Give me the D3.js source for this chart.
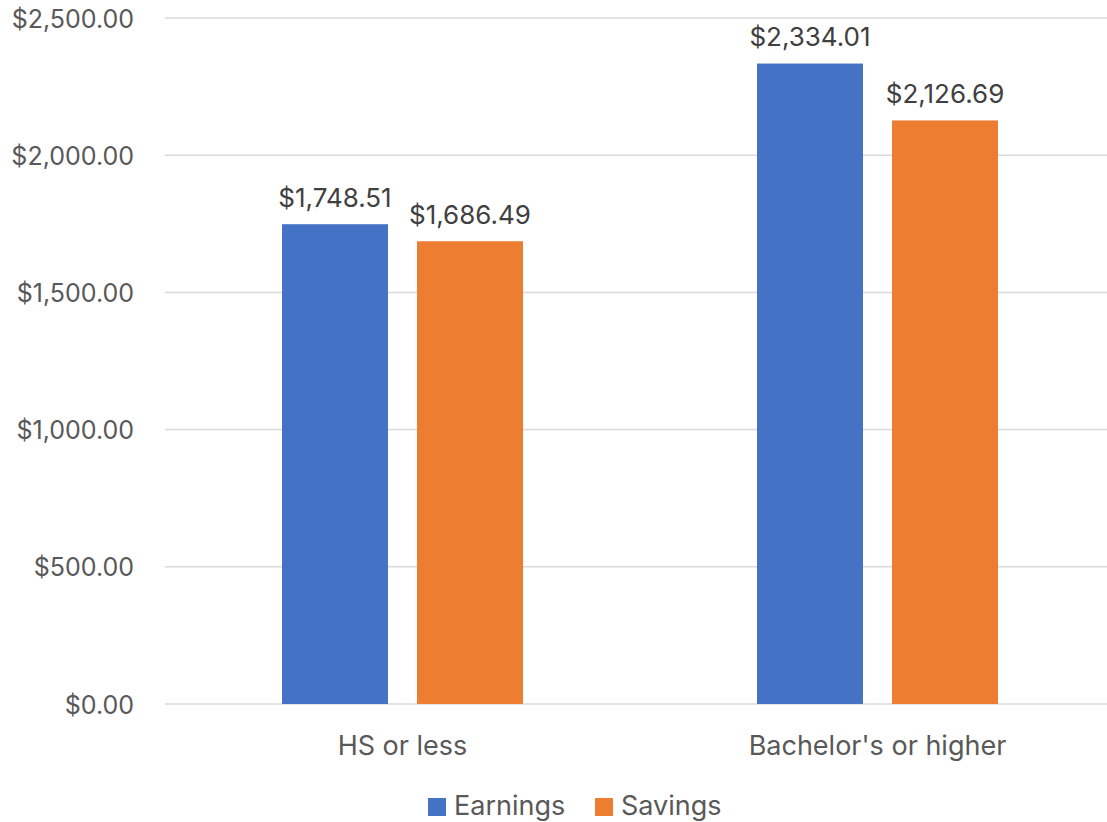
<!DOCTYPE html>
<html><head><meta charset="utf-8">
<script src="https://cdn.jsdelivr.net/npm/d3@7"></script>
<style>body{margin:0;background:#fff}svg{display:block;font-family:Inter,Roboto,"Noto Sans",sans-serif}</style>
</head><body><svg id="c" width="1107" height="822"></svg>
<script>
const categories = ["HS or less", "Bachelor's or higher"];
const seriesNames = ["Earnings", "Savings"];
const earnings = [1748.51, 2334.01];
const savings = [1686.49, 2126.69];
const yTicks = [0, 500, 1000, 1500, 2000, 2500];
const colors = ["#4472C4", "#ED7D31"];
const FONT = "Inter,Roboto,sans-serif";

const svg = d3.select("#c");
const x0 = d3.scaleBand().domain(categories).range([165, 1115]).paddingInner(0).paddingOuter(0);
const y = d3.scaleLinear().domain([0, 2500]).range([704, 18]);
const x1 = d3.scaleBand().domain(seriesNames).range([117, 358]).paddingInner(0.215);
const fmt = d3.format("$,.2f");

const g = svg.append("g");
g.selectAll("line.grid").data(yTicks).join("line")
  .attr("x1", 165).attr("x2", 1115)
  .attr("y1", d => y(d)).attr("y2", d => y(d))
  .attr("stroke", "#d9d9d9").attr("stroke-width", 1.5);

const yAxis = d3.axisLeft(y).tickValues(yTicks).tickFormat(fmt).tickSize(0).tickPadding(0);
const ya = svg.append("g").attr("transform", "translate(134,0)").call(yAxis);
ya.select(".domain").remove();
ya.selectAll("text").attr("font-size", 25).attr("fill", "#595959").attr("font-family", FONT).attr("dy", "0.36em");

const data = categories.map((c, i) => ({cat: c, vals: [earnings[i], savings[i]]}));
const grp = svg.selectAll("g.cat").data(data).join("g").attr("class", "cat")
  .attr("transform", d => `translate(${x0(d.cat)},0)`);
grp.selectAll("rect").data(d => d.vals.map((v, j) => ({s: seriesNames[j], v, j}))).join("rect")
  .attr("x", d => x1(d.s)).attr("width", x1.bandwidth())
  .attr("y", d => y(d.v)).attr("height", d => y(0) - y(d.v))
  .attr("fill", d => colors[d.j]);
grp.selectAll("text").data(d => d.vals.map((v, j) => ({s: seriesNames[j], v, j}))).join("text")
  .attr("x", d => x1(d.s) + x1.bandwidth() / 2).attr("y", d => y(d.v) - 17.5)
  .attr("text-anchor", "middle").attr("font-size", 26).attr("fill", "#404040")
  .text(d => fmt(d.v));

const xAxis = d3.axisBottom(x0).tickSize(0).tickPadding(0);
const xa = svg.append("g").attr("transform", "translate(0,755)").call(xAxis);
xa.select(".domain").remove();
xa.selectAll("text").attr("font-size", 27).attr("fill", "#595959").attr("font-family", FONT).attr("dy", 0);

const legend = svg.append("g");
const lx = [428, 595];
seriesNames.forEach((s, i) => {
  legend.append("rect").attr("x", lx[i]).attr("y", 798).attr("width", 18).attr("height", 18).attr("fill", colors[i]);
  legend.append("text").attr("x", lx[i] + 26).attr("y", 815).attr("font-size", 27).attr("fill", "#595959").text(s);
});
</script></body></html>
